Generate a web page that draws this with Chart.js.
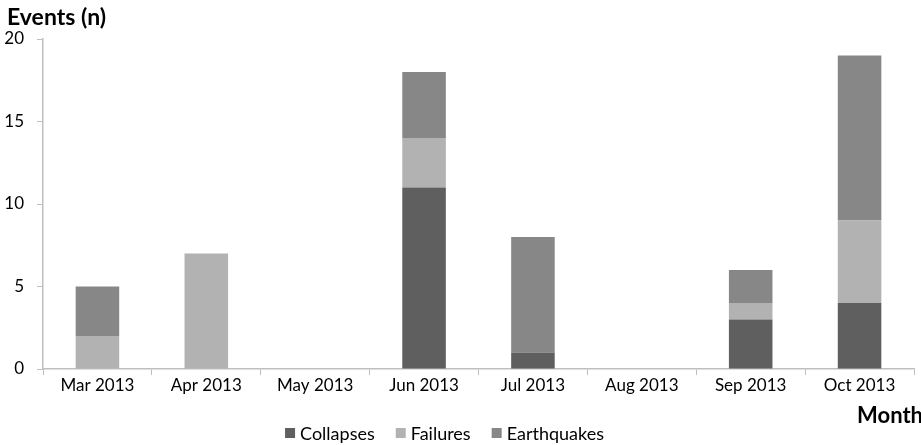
<!DOCTYPE html>
<html>
<head>
<meta charset="utf-8">
<script src="https://cdn.jsdelivr.net/npm/chart.js@4.4.0/dist/chart.umd.min.js"></script>
<style>
  html, body { margin: 0; padding: 0; background: #ffffff; }
  #wrap { width: 921px; height: 445px; position: relative; }
</style>
</head>
<body>
<div id="wrap"><canvas id="chart" width="921" height="445"></canvas></div>
<script>
// Monthly event counts, stacked by type
const months = ["Mar 2013", "Apr 2013", "May 2013", "Jun 2013", "Jul 2013", "Aug 2013", "Sep 2013", "Oct 2013"];
const collapses = [0, 0, 0, 11, 1, 0, 3, 4];
const failures = [2, 7, 0, 3, 0, 0, 1, 5];
const earthquakes = [3, 0, 0, 4, 7, 0, 2, 10];
const yTicks = [0, 5, 10, 15, 20];

const FONT = "Lato, 'Open Sans', sans-serif";
const AXIS = "#bfbfbf";

// Draws the y-axis caption, the x-axis caption and a compact legend row
const annotations = {
  id: "annotations",
  afterDraw(chart) {
    const ctx = chart.ctx;
    const area = chart.chartArea;
    ctx.save();
    ctx.fillStyle = "#000";

    // y-axis caption, top left
    ctx.font = `bold 23px ${FONT}`;
    ctx.textAlign = "left";
    ctx.textBaseline = "middle";
    ctx.fillText("Events (n)", 7, 18);

    // x-axis caption, bottom right
    ctx.font = `bold 22px ${FONT}`;
    ctx.textAlign = "right";
    ctx.fillText("Month", chart.width + 2, area.bottom + 47);

    // legend, centred a little left of the page middle
    ctx.font = `18px ${FONT}`;
    const box = 10, gap = 5, spacing = 21;
    const items = chart.data.datasets.map(ds => ({
      label: ds.label, color: ds.backgroundColor, w: ctx.measureText(ds.label).width
    }));
    const total = items.reduce((s, it) => s + box + gap + it.w, 0) + spacing * (items.length - 1);
    let x = chart.width / 2 - 16 - total / 2;
    const y = area.bottom + 64;
    ctx.textAlign = "left";
    items.forEach(it => {
      ctx.fillStyle = it.color;
      ctx.fillRect(x, y - box / 2, box, box);
      ctx.fillStyle = "#000";
      ctx.fillText(it.label, x + box + gap, y + 1);
      x += box + gap + it.w + spacing;
    });
    ctx.restore();
  }
};

new Chart(document.getElementById("chart"), {
  type: "bar",
  data: {
    labels: months,
    datasets: [
      { label: "Collapses", data: collapses, backgroundColor: "#5f5f5f" },
      { label: "Failures", data: failures, backgroundColor: "#b2b2b2" },
      { label: "Earthquakes", data: earthquakes, backgroundColor: "#878787" }
    ]
  },
  plugins: [annotations],
  options: {
    responsive: false,
    animation: false,
    layout: { padding: { left: 0, right: 7, top: 39, bottom: 0 } },
    datasets: { bar: { categoryPercentage: 1.0, barPercentage: 0.4 } },
    plugins: {
      title: { display: false },
      legend: { display: false },
      tooltip: { enabled: false }
    },
    scales: {
      x: {
        stacked: true,
        afterFit: (scale) => { scale.height = 76; },
        grid: { drawOnChartArea: false, drawTicks: true, tickLength: 6, color: AXIS, offset: true },
        border: { color: AXIS, width: 1.5 },
        ticks: { color: "#000", font: { family: FONT, size: 17 }, padding: 0, maxRotation: 0 }
      },
      y: {
        stacked: true,
        min: 0,
        max: 20,
        afterBuildTicks: (axis) => { axis.ticks = yTicks.map(v => ({ value: v })); },
        afterFit: (scale) => { scale.width = 43; },
        grid: { drawOnChartArea: false, drawTicks: true, tickLength: 6, color: AXIS },
        border: { color: AXIS, width: 1.5 },
        ticks: { color: "#000", font: { family: FONT, size: 17 }, padding: 13 }
      }
    }
  }
});
</script>
</body>
</html>
